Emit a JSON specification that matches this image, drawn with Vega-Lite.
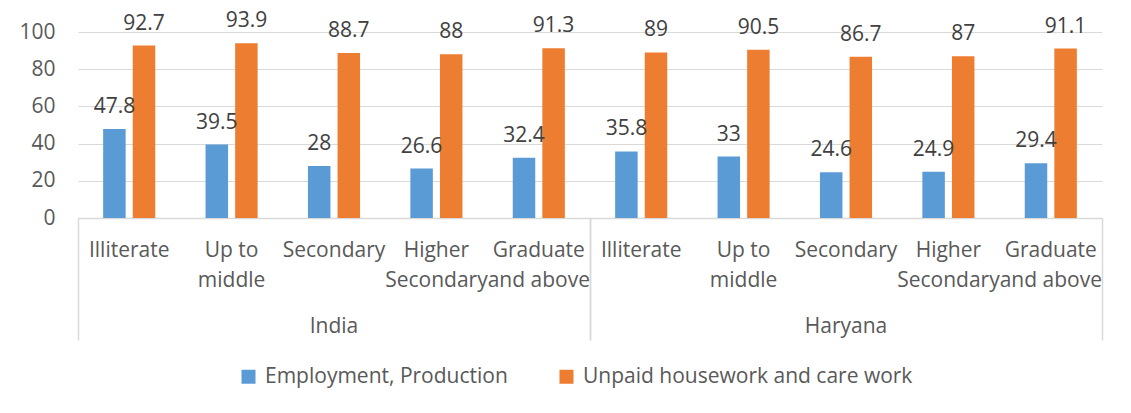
{
  "$schema": "https://vega.github.io/schema/vega-lite/v6.json",
  "background": "white",
  "padding": {"left": 18, "top": 10, "right": 29, "bottom": 10},
  "data": {"values": [
    {"region": "India", "level": "Illiterate", "series": "Employment, Production", "value": 47.8},
    {"region": "India", "level": "Illiterate", "series": "Unpaid housework and care work", "value": 92.7},
    {"region": "India", "level": "Up to middle", "series": "Employment, Production", "value": 39.5},
    {"region": "India", "level": "Up to middle", "series": "Unpaid housework and care work", "value": 93.9},
    {"region": "India", "level": "Secondary", "series": "Employment, Production", "value": 28},
    {"region": "India", "level": "Secondary", "series": "Unpaid housework and care work", "value": 88.7},
    {"region": "India", "level": "Higher Secondary", "series": "Employment, Production", "value": 26.6},
    {"region": "India", "level": "Higher Secondary", "series": "Unpaid housework and care work", "value": 88},
    {"region": "India", "level": "Graduate and above", "series": "Employment, Production", "value": 32.4},
    {"region": "India", "level": "Graduate and above", "series": "Unpaid housework and care work", "value": 91.3},
    {"region": "Haryana", "level": "Illiterate", "series": "Employment, Production", "value": 35.8},
    {"region": "Haryana", "level": "Illiterate", "series": "Unpaid housework and care work", "value": 89},
    {"region": "Haryana", "level": "Up to middle", "series": "Employment, Production", "value": 33},
    {"region": "Haryana", "level": "Up to middle", "series": "Unpaid housework and care work", "value": 90.5},
    {"region": "Haryana", "level": "Secondary", "series": "Employment, Production", "value": 24.6},
    {"region": "Haryana", "level": "Secondary", "series": "Unpaid housework and care work", "value": 86.7},
    {"region": "Haryana", "level": "Higher Secondary", "series": "Employment, Production", "value": 24.9},
    {"region": "Haryana", "level": "Higher Secondary", "series": "Unpaid housework and care work", "value": 87},
    {"region": "Haryana", "level": "Graduate and above", "series": "Employment, Production", "value": 29.4},
    {"region": "Haryana", "level": "Graduate and above", "series": "Unpaid housework and care work", "value": 91.1}
  ]},
  "facet": {
    "column": {
      "field": "region", "type": "nominal", "sort": ["India", "Haryana"],
      "header": {"title": null, "labelOrient": "bottom", "labelFont": "Open Sans", "labelFontSize": 21, "labelColor": "#595959", "labelPadding": -25}
    }
  },
  "spacing": 0,
  "spec": {
    "width": 512,
    "height": 186,
    "encoding": {
      "x": {"field": "level", "type": "nominal", "sort": ["Illiterate", "Up to middle", "Secondary", "Higher Secondary", "Graduate and above"],
            "scale": {"paddingInner": 0, "paddingOuter": 0}},
      "xOffset": {"field": "series", "type": "nominal", "sort": ["Employment, Production", "Unpaid housework and care work"],
                  "scale": {"paddingInner": 0.24, "paddingOuter": 0.85}},
      "y": {"field": "value", "type": "quantitative", "scale": {"domain": [0, 100], "nice": false},
            "axis": {"title": null, "values": [0, 20, 40, 60, 80, 100], "domain": false, "ticks": false, "grid": true, "gridColor": "#d9d9d9", "gridWidth": 1,
                     "labelFont": "Open Sans", "labelFontSize": 21, "labelColor": "#595959", "labelPadding": 23}}
    },
    "layer": [
      {
        "mark": {"type": "bar"},
        "encoding": {
          "x": {"field": "level", "type": "nominal", "sort": ["Illiterate", "Up to middle", "Secondary", "Higher Secondary", "Graduate and above"],
                "axis": {"title": null, "orient": "bottom", "ticks": false, "domain": true, "domainColor": "#d9d9d9", "domainWidth": 1.5, "labelAngle": 0,
                         "labelFont": "Open Sans", "labelFontSize": 21, "labelColor": "#595959", "labelPadding": 21, "labelLineHeight": 30,
                         "labelExpr": "datum.value == 'Up to middle' ? ['Up to', 'middle'] : datum.value == 'Higher Secondary' ? ['Higher', 'Secondary'] : datum.value == 'Graduate and above' ? ['Graduate', 'and above'] : datum.value"}},
          "color": {"field": "series", "type": "nominal", "sort": ["Employment, Production", "Unpaid housework and care work"],
                    "scale": {"range": ["#5B9BD5", "#ED7D31"]},
                    "legend": {"title": null, "orient": "none", "legendX": 160, "legendY": 334, "direction": "horizontal", "symbolType": "square", "symbolSize": 196, "symbolStrokeWidth": 0,
                               "labelFont": "Open Sans", "labelFontSize": 21, "labelColor": "#595959", "labelLimit": 0, "labelOffset": 6, "columnPadding": 48}}
        }
      },
      {
        "mark": {"type": "text", "baseline": "alphabetic", "dy": -16, "font": "Open Sans", "fontSize": 21, "color": "#404040"},
        "encoding": {
          "x": {"field": "level", "type": "nominal", "sort": ["Illiterate", "Up to middle", "Secondary", "Higher Secondary", "Graduate and above"],
                "axis": {"title": null, "orient": "bottom", "values": ["Illiterate"], "bandPosition": 0, "labels": false, "domain": false, "ticks": true, "tickSize": 122, "tickColor": "#d9d9d9", "tickWidth": 1.5, "grid": false}},
          "text": {"field": "value", "type": "quantitative", "format": "~g"}
        }
      },
      {
        "mark": {"type": "bar", "opacity": 0},
        "encoding": {
          "x": {"field": "level", "type": "nominal", "sort": ["Illiterate", "Up to middle", "Secondary", "Higher Secondary", "Graduate and above"],
                "axis": {"title": null, "orient": "bottom", "values": ["Graduate and above"], "bandPosition": 1, "labels": false, "domain": false, "ticks": true, "tickSize": 122, "tickColor": "#d9d9d9", "tickWidth": 1.5, "grid": false}}
        }
      }
    ],
    "resolve": {"axis": {"x": "independent"}}
  },
  "config": {"view": {"stroke": null}}
}
